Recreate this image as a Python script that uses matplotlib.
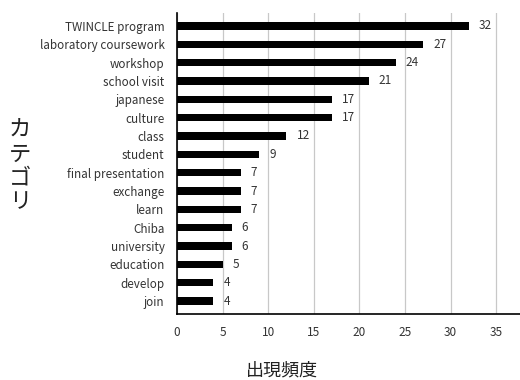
import matplotlib
matplotlib.use("Agg")
import matplotlib.pyplot as plt
import numpy as np

plt.rcParams['font.family'] = ['Noto Sans CJK JP', 'DejaVu Sans']

categories = ["TWINCLE program", "laboratory coursework", "workshop", "school visit",
              "japanese", "culture", "class", "student", "final presentation",
              "exchange", "learn", "Chiba", "university", "education", "develop", "join"]
counts = [32, 27, 24, 21, 17, 17, 12, 9, 7, 7, 7, 6, 6, 5, 4, 4]
xticks = [0, 5, 10, 15, 20, 25, 30, 35]

fig = plt.figure(figsize=(5.2, 3.8), dpi=100)
ax = fig.add_axes([177 / 520, 1 - 314 / 380, 1 - 177 / 520, (314 - 13) / 380])

y = np.arange(len(categories))
ax.barh(y, counts, height=0.4, color='black', zorder=3)
for yi, c in zip(y, counts):
    ax.text(c + 1.1, yi, str(c), va='center', ha='left', fontsize=8.5, color='#333333')

ax.set_yticks(y)
ax.set_yticklabels(categories, fontsize=8.4, color='#333333')
ax.set_ylim(len(categories) - 0.3, -0.7)
ax.set_xlim(0, 37.6)
ax.set_xticks(xticks)
ax.tick_params(axis='x', labelsize=8.5, length=0, pad=9, labelcolor='#333333')
ax.tick_params(axis='y', length=0, pad=9)
ax.grid(axis='x', color='#c8c8c8', linewidth=0.9, zorder=0)
for s in ['top', 'right']:
    ax.spines[s].set_visible(False)
ax.spines['left'].set_linewidth(1.2)
ax.spines['bottom'].set_linewidth(1.2)

fig.text(282 / 520, 1 - 370 / 380, "出現頻度", ha='center', va='center',
         fontsize=13, color='#222222')
fig.text(20 / 520, 1 - 166 / 380, "カ\nテ\nゴ\nリ", ha='center', va='center',
         fontsize=16, linespacing=1.05, color='#222222')

fig.savefig("out.png", dpi=100)
